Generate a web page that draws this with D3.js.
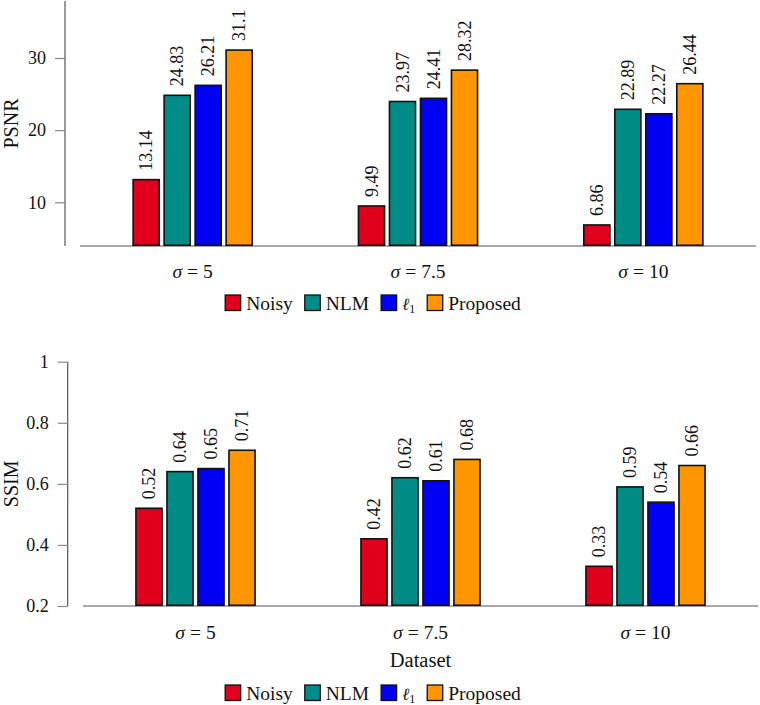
<!DOCTYPE html>
<html>
<head>
<meta charset="utf-8">
<script src="https://cdn.jsdelivr.net/npm/d3@7"></script>
<style>
  html, body { margin: 0; padding: 0; background: #fff; }
  svg { display: block; }
  text { font-family: "Liberation Serif", "Times New Roman", "DejaVu Serif", serif; fill: #111; }
</style>
</head>
<body>
<svg id="chart" width="760" height="705"></svg>
<script>
// ---- data ----
const categories = ["5", "7.5", "10"];
const seriesNames = ["Noisy", "NLM", "ℓ1", "Proposed"];
const seriesColors = ["#e0001b", "#008c86", "#0000f5", "#ff9600"];
const psnrNoisy    = [13.14, 9.49, 6.86];
const psnrNLM      = [24.83, 23.97, 22.89];
const psnrL1       = [26.21, 24.41, 22.27];
const psnrProposed = [31.1, 28.32, 26.44];
const ssimNoisy    = [0.52, 0.42, 0.33];
const ssimNLM      = [0.64, 0.62, 0.59];
const ssimL1       = [0.65, 0.61, 0.54];
const ssimProposed = [0.71, 0.68, 0.66];
const psnrTicks = [10, 20, 30];
const ssimTicks = [0.2, 0.4, 0.6, 0.8, 1];

const FONT = '"Liberation Serif", "Times New Roman", "DejaVu Serif", serif';
const svg = d3.select("#chart");
const FS = 18;     // ticks and bar labels
const FL = 19.5;   // category labels, legend, axis titles

function drawChart(opt) {
  const g = svg.append("g").attr("font-family", FONT);
  const series = opt.series;
  const x = d3.scaleLinear().domain([-0.5, categories.length - 0.5]).range([opt.xStart, opt.xEnd]);
  const xs = d3.scaleBand().domain(d3.range(series.length)).range([-62, 62])
    .paddingInner(0.11).paddingOuter(0.055);
  const y = d3.scaleLinear().domain(opt.tickRef).range(opt.tickPix);
  y.domain([y.invert(opt.yBottom), y.invert(opt.yTop)]).range([opt.yBottom, opt.yTop]);

  // y axis
  const yAxis = d3.axisLeft(y).tickValues(opt.ticks).tickSize(10).tickPadding(9)
    .tickFormat(opt.fmt);
  const ya = g.append("g").attr("transform", `translate(${opt.yAxisX},0)`).call(yAxis);
  ya.attr("font-family", FONT);
  ya.select(".domain").attr("stroke", "#555").attr("stroke-width", 1.2).attr("d", `M0,${opt.yTop}V${opt.yBottom}`);
  ya.selectAll(".tick line").attr("stroke", "#888").attr("stroke-width", 1.2);
  ya.selectAll(".tick text").attr("font-size", FS).attr("fill", "#111");

  // x axis line
  g.append("line").attr("x1", opt.xStart).attr("x2", opt.xEnd)
    .attr("y1", opt.yBottom).attr("y2", opt.yBottom)
    .attr("stroke", "#555").attr("stroke-width", 1.2);

  // bars
  series.forEach((vals, si) => {
    const gg = g.append("g");
    gg.selectAll("rect").data(vals).join("rect")
      .attr("x", (d, i) => x(i) + xs(si) + 0.75)
      .attr("width", xs.bandwidth() - 1.5)
      .attr("y", d => y(d))
      .attr("height", d => opt.yBottom - y(d) - 0.75)
      .attr("fill", seriesColors[si])
      .attr("stroke", "#111").attr("stroke-width", 1.6);
    gg.selectAll("text").data(vals).join("text")
      .attr("transform", (d, i) => `translate(${x(i) + xs(si) + xs.bandwidth() / 2 + 6},${y(d) - 9}) rotate(-90)`)
      .attr("font-size", FS)
      .attr("text-anchor", "start")
      .text(d => opt.fmt(d));
  });

  // category labels (σ = value, math spacing)
  categories.forEach((c, i) => {
    const t = g.append("text").attr("x", x(i)).attr("y", opt.catY)
      .attr("text-anchor", "middle").attr("font-size", FL);
    t.append("tspan").attr("font-style", "italic").text("σ");
    t.append("tspan").attr("dx", 5).text("=");
    t.append("tspan").attr("dx", 5).text(c);
  });

  // y label
  g.append("text")
    .attr("transform", `translate(${opt.yLabelX},${(opt.yTop + opt.yBottom) / 2}) rotate(-90)`)
    .attr("text-anchor", "middle").attr("font-size", 20).text(opt.yLabel);

  if (opt.xLabel) {
    g.append("text").attr("x", x(1)).attr("y", opt.xLabelY)
      .attr("text-anchor", "middle").attr("font-size", 20.5).text(opt.xLabel);
  }

  // legend
  const lg = g.append("g");
  let cx = 0;
  seriesNames.forEach((name, si) => {
    const it = lg.append("g").attr("transform", `translate(${cx},0)`);
    it.append("rect").attr("x", 0).attr("y", -8).attr("width", 15.5).attr("height", 15.5)
      .attr("fill", seriesColors[si]).attr("stroke", "#111").attr("stroke-width", 1.3);
    const t = it.append("text").attr("x", 21).attr("y", 6.5).attr("font-size", FL);
    if (name === "ℓ1") {
      t.append("tspan").attr("font-family", "DejaVu Serif").attr("font-style", "italic").attr("font-size", 17).text("ℓ");
      t.append("tspan").attr("font-size", 12).attr("dy", 3).text("1");
    } else {
      t.text(name);
    }
    const w = t.node().getComputedTextLength();
    cx += 21 + w + 12;
  });
  const total = cx - 12;
  lg.attr("transform", `translate(${373 - total / 2},${opt.legendY})`);
}

drawChart({
  series: [psnrNoisy, psnrNLM, psnrL1, psnrProposed],
  ticks: psnrTicks, tickRef: [10, 30], tickPix: [202.3, 58],
  yTop: 1, yBottom: 246, yAxisX: 65, xStart: 80, xEnd: 756,
  fmt: d => String(d), yLabel: "PSNR", yLabelX: 18,
  catY: 278, legendY: 303
});

drawChart({
  series: [ssimNoisy, ssimNLM, ssimL1, ssimProposed],
  ticks: ssimTicks, tickRef: [0.2, 1], tickPix: [606, 361.7],
  yTop: 361.7, yBottom: 606, yAxisX: 67.7, xStart: 83, xEnd: 758,
  fmt: d => (d === 1 ? "1" : String(d)), yLabel: "SSIM", yLabelX: 18,
  catY: 639, xLabel: "Dataset", xLabelY: 667, legendY: 693
});
</script>
</body>
</html>
